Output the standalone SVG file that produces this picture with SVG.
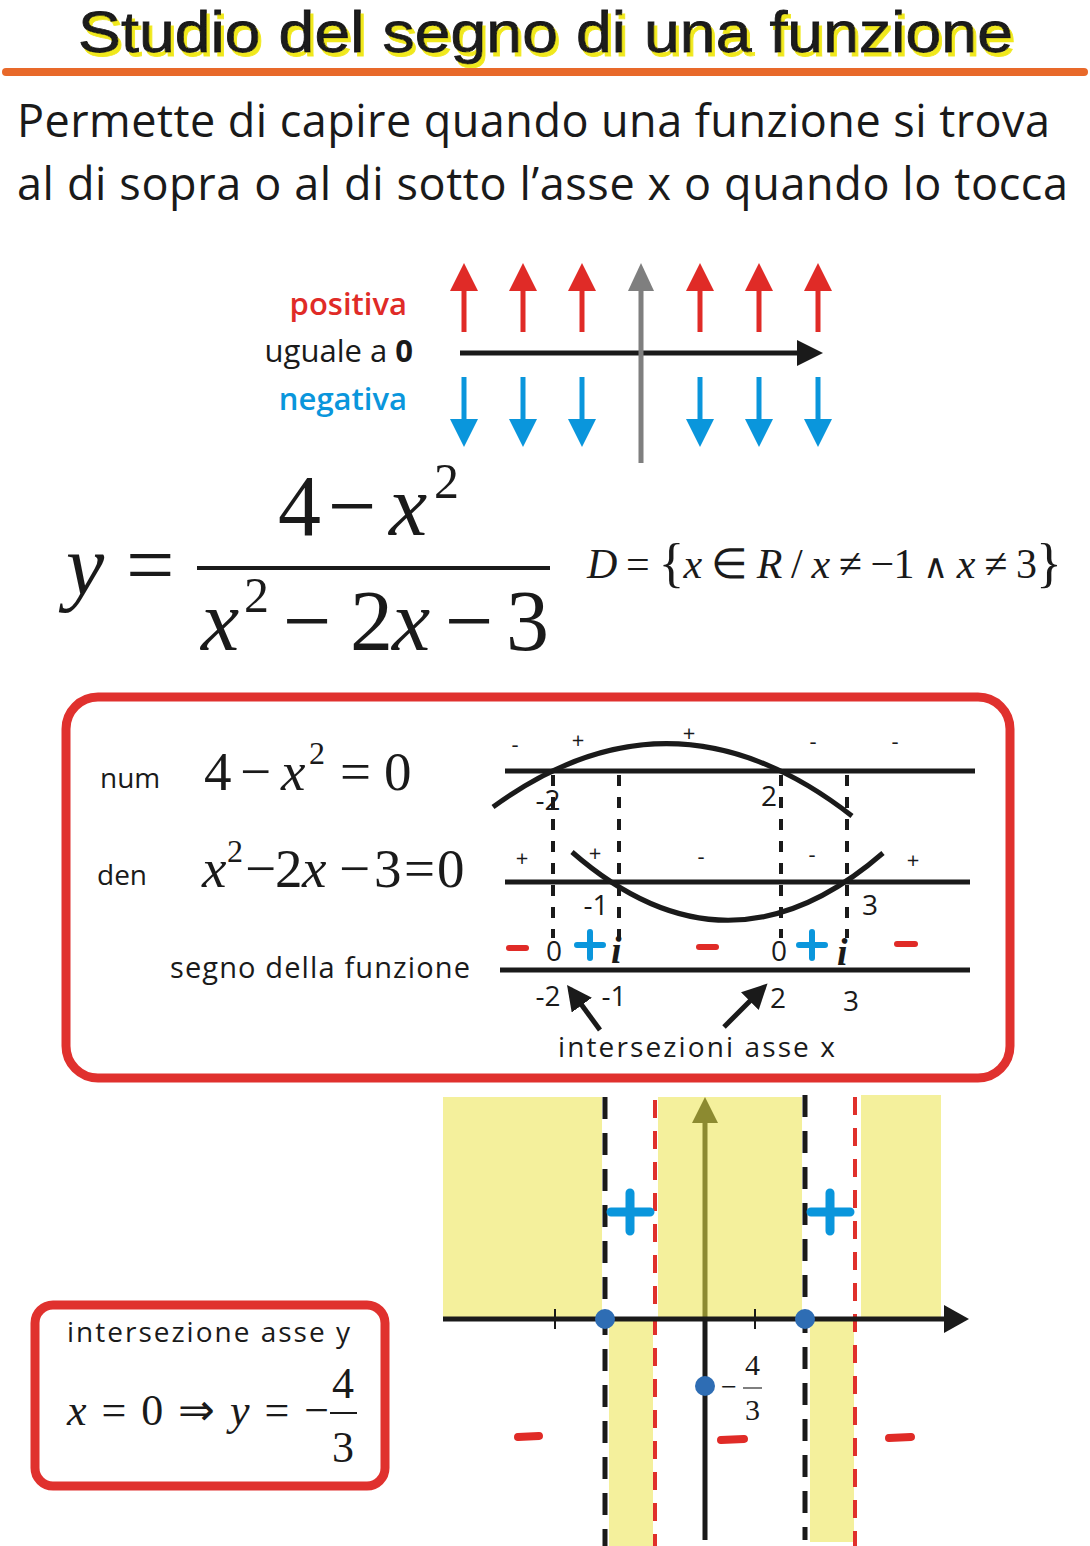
<svg xmlns="http://www.w3.org/2000/svg" width="1090" height="1546" viewBox="0 0 1090 1546">
<defs>
<style>
.sans{font-family:"Open Sans","Liberation Sans",sans-serif;}
.ttl{font-family:"Liberation Sans","Open Sans",sans-serif;}
.ser{font-family:"Liberation Serif","Times New Roman",serif;}
.it{font-style:italic;}
.k{fill:#1a1a1a;}
.redt{fill:#E02B27;}
.bluet{fill:#0A96DC;}
.upR{stroke:#E02B27;stroke-width:5;fill:none;}
.hR{fill:#E02B27;}
.dnB{stroke:#0A96DC;stroke-width:5;fill:none;}
.hB{fill:#0A96DC;}
.ax{stroke:#1a1a1a;stroke-width:5;fill:none;}
.dash{stroke:#1a1a1a;stroke-width:4;stroke-dasharray:11 11;fill:none;}
.curve{stroke:#1a1a1a;stroke-width:5;fill:none;}
.box{fill:none;stroke:#E0312E;stroke-width:9;}
.yel{fill:#F4F09C;}
.bdash{stroke:#1a1a1a;stroke-width:5;stroke-dasharray:22 14;fill:none;}
.rdash{stroke:#E0302B;stroke-width:4;stroke-dasharray:18 13;fill:none;}
.plus{stroke:#0A96DC;stroke-linecap:round;fill:none;}
.minus{stroke:#E02B27;stroke-linecap:round;fill:none;}
.dot{fill:#2E6DB4;}
.sg{font-size:22px;}
.num{font-size:28px;}
</style>
<filter id="ysh" x="-5%" y="-20%" width="110%" height="150%">
<feDropShadow dx="3" dy="4" stdDeviation="0" flood-color="#F0E81E" flood-opacity="1"/>
</filter>
<marker id="ah" viewBox="0 0 10 10" refX="8" refY="5" markerWidth="5" markerHeight="5" orient="auto" markerUnits="strokeWidth">
<path d="M0,0 L10,5 L0,10 z" fill="#1a1a1a"/>
</marker>
</defs>
<rect width="1090" height="1546" fill="#ffffff"/>

<g id="title">
<text class="ttl k" x="78" y="52" font-size="57" textLength="935" lengthAdjust="spacingAndGlyphs" stroke="#1a1a1a" stroke-width="0.8" filter="url(#ysh)">Studio del segno di una funzione</text>
<line x1="6" y1="72" x2="1084" y2="72" stroke="#E8692A" stroke-width="8" stroke-linecap="round"/>
</g>

<g id="intro">
<text class="sans k" x="17" y="137" font-size="45" textLength="1033">Permette di capire quando una funzione si trova</text>
<text class="sans k" x="17" y="200" font-size="45" textLength="1051">al di sopra o al di sotto l’asse x o quando lo tocca</text>
</g>

<g id="sign-legend">
<text class="sans redt" x="407" y="315" font-size="31" font-weight="600" text-anchor="end">positiva</text>
<text class="sans k" x="413" y="362" font-size="31" text-anchor="end">uguale a <tspan font-weight="bold">0</tspan></text>
<text class="sans bluet" x="407" y="410" font-size="31" font-weight="600" text-anchor="end">negativa</text>
<g>
<line class="upR" x1="464" y1="332" x2="464" y2="285"/><polygon class="hR" points="450,291 464,263 478,291"/>
<line class="upR" x1="523" y1="332" x2="523" y2="285"/><polygon class="hR" points="509,291 523,263 537,291"/>
<line class="upR" x1="582" y1="332" x2="582" y2="285"/><polygon class="hR" points="568,291 582,263 596,291"/>
<line class="upR" x1="700" y1="332" x2="700" y2="285"/><polygon class="hR" points="686,291 700,263 714,291"/>
<line class="upR" x1="759" y1="332" x2="759" y2="285"/><polygon class="hR" points="745,291 759,263 773,291"/>
<line class="upR" x1="818" y1="332" x2="818" y2="285"/><polygon class="hR" points="804,291 818,263 832,291"/>
</g>
<g>
<line class="dnB" x1="464" y1="377" x2="464" y2="425"/><polygon class="hB" points="450,419 464,447 478,419"/>
<line class="dnB" x1="523" y1="377" x2="523" y2="425"/><polygon class="hB" points="509,419 523,447 537,419"/>
<line class="dnB" x1="582" y1="377" x2="582" y2="425"/><polygon class="hB" points="568,419 582,447 596,419"/>
<line class="dnB" x1="700" y1="377" x2="700" y2="425"/><polygon class="hB" points="686,419 700,447 714,419"/>
<line class="dnB" x1="759" y1="377" x2="759" y2="425"/><polygon class="hB" points="745,419 759,447 773,419"/>
<line class="dnB" x1="818" y1="377" x2="818" y2="425"/><polygon class="hB" points="804,419 818,447 832,419"/>
</g>
<line x1="460" y1="353" x2="802" y2="353" stroke="#1a1a1a" stroke-width="5"/>
<polygon points="797,340 823,353 797,366" fill="#1a1a1a"/>
<line x1="641" y1="286" x2="641" y2="463" stroke="#7F7F7F" stroke-width="5"/>
<polygon points="628,291 641,263 654,291" fill="#7F7F7F"/>
</g>

<g id="formula" class="ser k">
<text class="it" x="66" y="594" font-size="86">y</text>
<text x="126" y="594" font-size="86">=</text>
<text x="278" y="535" font-size="86">4</text>
<text x="328" y="535" font-size="86">−</text>
<text class="it" x="389" y="535" font-size="86">x</text>
<text x="434" y="498" font-size="50">2</text>
<line x1="197" y1="568" x2="550" y2="568" stroke="#1a1a1a" stroke-width="4"/>
<text class="it" x="201" y="650" font-size="86">x</text>
<text x="244" y="612" font-size="50">2</text>
<text x="283" y="650" font-size="86">−</text>
<text x="350" y="650" font-size="86">2</text>
<text class="it" x="392" y="650" font-size="86">x</text>
<text x="445" y="650" font-size="86">−</text>
<text x="506" y="650" font-size="86">3</text>
</g>

<g id="domain" class="ser k">
<text x="587" y="578" font-size="42" textLength="475" lengthAdjust="spacing"><tspan class="it">D</tspan> = <tspan font-size="54" dy="3">{</tspan><tspan class="it" dy="-3">x</tspan> ∈ <tspan class="it">R</tspan> / <tspan class="it">x</tspan> ≠ −1 <tspan font-family="DejaVu Serif, serif" font-size="34">∧</tspan> <tspan class="it">x</tspan> ≠ 3<tspan font-size="54" dy="3">}</tspan></text>
</g>

<g id="sign-box">
<rect class="box" x="66" y="697" width="944" height="381" rx="32"/>
<text class="sans k" x="100" y="788" font-size="28">num</text>
<text class="sans k" x="97" y="885" font-size="28">den</text>
<text class="sans k" x="170" y="978" font-size="29" textLength="300">segno della funzione</text>
<g class="ser k">
<text x="204" y="790" font-size="55">4</text>
<text x="240" y="790" font-size="55">−</text>
<text class="it" x="281" y="790" font-size="55">x</text>
<text x="309" y="764" font-size="32">2</text>
<text x="340" y="790" font-size="55">=</text>
<text x="384" y="790" font-size="55">0</text>
<text class="it" x="202" y="887" font-size="55">x</text>
<text x="227" y="862" font-size="32">2</text>
<text x="245" y="887" font-size="55">−</text>
<text x="275" y="887" font-size="55">2</text>
<text class="it" x="302" y="887" font-size="55">x</text>
<text x="339" y="887" font-size="55">−</text>
<text x="374" y="887" font-size="55">3</text>
<text x="404" y="887" font-size="55">=</text>
<text x="437" y="887" font-size="55">0</text>
</g>
<g id="chart-num">
<line class="ax" x1="505" y1="771" x2="975" y2="771"/>
<path class="curve" d="M493,807 Q672.5,676 852,816"/>
<g class="sans k sg" text-anchor="middle">
<text x="515" y="752">-</text><text x="578" y="748">+</text><text x="689" y="741">+</text><text x="813" y="749">-</text><text x="895" y="749">-</text>
</g>
<text class="sans k num" x="548" y="810" text-anchor="middle">-2</text>
<text class="sans k num" x="769" y="806" text-anchor="middle">2</text>
</g>
<g id="chart-den">
<line class="ax" x1="505" y1="882" x2="970" y2="882"/>
<path class="curve" d="M572,852 Q727.5,988 883,853"/>
<g class="sans k sg" text-anchor="middle">
<text x="522" y="866">+</text><text x="595" y="861">+</text><text x="701" y="864">-</text><text x="812" y="862">-</text><text x="913" y="868">+</text>
</g>
<text class="sans k num" x="596" y="915" text-anchor="middle">-1</text>
<text class="sans k num" x="870" y="915" text-anchor="middle">3</text>
</g>
<g id="chart-dashes">
<line class="dash" x1="553" y1="775" x2="553" y2="938"/>
<line class="dash" x1="619" y1="775" x2="619" y2="938"/>
<line class="dash" x1="781" y1="775" x2="781" y2="938"/>
<line class="dash" x1="847" y1="775" x2="847" y2="938"/>
</g>
<g id="chart-sign">
<line class="ax" x1="500" y1="970" x2="970" y2="970"/>
<line class="minus" x1="509" y1="948" x2="526" y2="948" stroke-width="6"/>
<line class="minus" x1="699" y1="947" x2="716" y2="947" stroke-width="6"/>
<line class="minus" x1="897" y1="944" x2="915" y2="944" stroke-width="6"/>
<path class="plus" stroke-width="6" d="M577,945 H603 M590,932 V958"/>
<path class="plus" stroke-width="6" d="M799,945 H825 M812,932 V958"/>
<text class="sans k num" x="554" y="961" text-anchor="middle">0</text>
<text class="sans k num" x="779" y="961" text-anchor="middle">0</text>
<text class="ser" x="611" y="963" font-size="38" font-weight="bold" font-style="italic" fill="#1a1a1a">i</text>
<text class="ser" x="837" y="965" font-size="38" font-weight="bold" font-style="italic" fill="#1a1a1a">i</text>
<text class="sans k num" x="548" y="1006" text-anchor="middle">-2</text>
<text class="sans k num" x="614" y="1006" text-anchor="middle">-1</text>
<text class="sans k num" x="778" y="1008" text-anchor="middle">2</text>
<text class="sans k num" x="851" y="1011" text-anchor="middle">3</text>
<text class="sans k" x="558" y="1057" font-size="28" textLength="277">intersezioni asse x</text>
</g>
</g>

<g id="connectors">
<line x1="600" y1="1030" x2="570" y2="989" stroke="#1a1a1a" stroke-width="5" marker-end="url(#ah)"/>
<line x1="724" y1="1027" x2="764" y2="987" stroke="#1a1a1a" stroke-width="5" marker-end="url(#ah)"/>
</g>

<g id="graph">
<rect class="yel" x="443" y="1097" width="159" height="222"/>
<rect class="yel" x="658" y="1097" width="144" height="222"/>
<rect class="yel" x="861" y="1095" width="80" height="224"/>
<rect class="yel" x="609" y="1319" width="44" height="227"/>
<rect class="yel" x="810" y="1319" width="44" height="223"/>
<line class="bdash" x1="605" y1="1097" x2="605" y2="1546"/>
<line class="bdash" x1="805" y1="1095" x2="805" y2="1540"/>
<line class="rdash" x1="655" y1="1100" x2="655" y2="1546"/>
<line class="rdash" x1="855" y1="1097" x2="855" y2="1546"/>
<line x1="705" y1="1119" x2="705" y2="1319" stroke="#8C8A30" stroke-width="5"/>
<polygon points="692,1123 705,1097 718,1123" fill="#8C8A30"/>
<line x1="705" y1="1319" x2="705" y2="1540" stroke="#1a1a1a" stroke-width="5"/>
<line x1="443" y1="1319" x2="950" y2="1319" stroke="#1a1a1a" stroke-width="5"/>
<polygon points="944,1305 969,1319 944,1333" fill="#1a1a1a"/>
<line x1="555" y1="1309" x2="555" y2="1329" stroke="#1a1a1a" stroke-width="2"/>
<line x1="755" y1="1309" x2="755" y2="1329" stroke="#1a1a1a" stroke-width="2"/>
<circle class="dot" cx="605" cy="1319" r="10"/>
<circle class="dot" cx="805" cy="1319" r="10"/>
<circle class="dot" cx="705" cy="1386" r="10"/>
<g class="ser k">
<text x="721" y="1396" font-size="28">−</text>
<text x="745" y="1375" font-size="30">4</text>
<line x1="743" y1="1388" x2="762" y2="1388" stroke="#555" stroke-width="1.5"/>
<text x="745" y="1420" font-size="30">3</text>
</g>
<path class="plus" stroke-width="9" d="M611,1212 H650 M630,1193 V1231"/>
<path class="plus" stroke-width="9" d="M811,1212 H850 M830,1193 V1231"/>
<line class="minus" stroke-width="8" x1="518" y1="1437" x2="539" y2="1436"/>
<line class="minus" stroke-width="8" x1="721" y1="1440" x2="744" y2="1439"/>
<line class="minus" stroke-width="8" x1="889" y1="1438" x2="911" y2="1437"/>
</g>

<g id="y-intersection-box">
<rect class="box" x="35" y="1305" width="350" height="181" rx="18"/>
<text class="sans k" x="67" y="1342" font-size="28" textLength="283">intersezione asse y</text>
<text class="ser k" x="67" y="1425" font-size="44" textLength="262" lengthAdjust="spacing"><tspan class="it">x</tspan> = 0 ⇒ <tspan class="it">y</tspan> = −</text>
<text class="ser k" x="332" y="1398" font-size="44">4</text>
<line x1="330" y1="1413" x2="357" y2="1413" stroke="#1a1a1a" stroke-width="2"/>
<text class="ser k" x="332" y="1462" font-size="44">3</text>
</g>
</svg>
